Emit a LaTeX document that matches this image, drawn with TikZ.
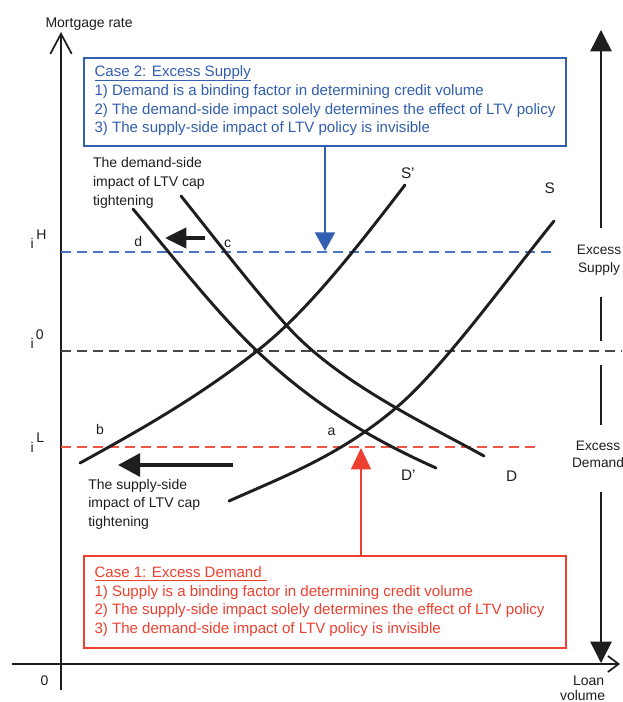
\documentclass[tikz,border=0pt]{standalone}
\usepackage{fontspec}
\setmainfont{Liberation Sans}
\usetikzlibrary{arrows.meta}
\definecolor{cblue}{RGB}{50,95,175}
\definecolor{cbluedash}{RGB}{75,115,195}
\definecolor{cred}{RGB}{238,64,48}
\definecolor{credd}{RGB}{240,85,70}
\definecolor{cgray}{RGB}{70,70,70}
\definecolor{cink}{RGB}{30,30,30}
\begin{document}
\begin{tikzpicture}[x=0.75pt,y=-0.75pt,
  boxtxt/.style={font=\fontsize{11.3}{14}\selectfont, anchor=base west, inner sep=0pt, outer sep=0pt},
  lbl/.style={font=\fontsize{10.5}{13}\selectfont, anchor=base west, inner sep=0pt, outer sep=0pt, text=cink},
  biglbl/.style={font=\fontsize{11.5}{14}\selectfont, anchor=base west, inner sep=0pt, outer sep=0pt, text=cink},
  sidelbl/.style={font=\fontsize{10.3}{13}\selectfont, anchor=base, inner sep=0pt, outer sep=0pt, text=cink},
  curve/.style={line width=2.2pt, cink, line cap=round},
  axisline/.style={line width=1.3pt, cink},
  rline/.style={line width=1.1pt, cink},
  dashline/.style={line width=1.1pt, dash pattern=on 7.5pt off 4.5pt},
  bigarrow/.style={line width=3pt, cink},
  casebox/.style={anchor=north west, inner sep=0pt, outer sep=0pt, minimum width=361.5pt}
]
\fill[white] (0,0) rectangle (622,702);
\useasboundingbox (0,0) rectangle (622,702);

% axes
\coordinate (ybot) at (61,690);
\coordinate (ytop) at (61,32);
\coordinate (xleft) at (12,664);
\coordinate (xright) at (620,664);
\draw[axisline, -{Straight Barb[length=15pt,width=16pt]}] (ybot) -- (ytop);
\draw[axisline, -{Straight Barb[length=8pt,width=12pt]}] (xleft) -- (xright);
\node[lbl] (ylab) at (45.5,27.3) {Mortgage rate};
\node[lbl] (zero) at (40.5,685) {0};
\node[lbl] (loan) at (573,685) {Loan};
\node[lbl] (vol) at (560,700.5) {volume};

% right vertical arrow with gaps
\coordinate (rtop) at (601,30);
\coordinate (r1) at (601,228);
\coordinate (r2) at (601,297);
\coordinate (r3) at (601,341);
\coordinate (r4) at (601,365);
\coordinate (r5) at (601,425);
\coordinate (r6) at (601,492);
\coordinate (rbot) at (601,663);
\draw[rline, -{Triangle[length=16pt,width=16pt]}] (r1) -- (rtop);
\draw[rline] (r2) -- (r3);
\draw[rline] (r4) -- (r5);
\draw[rline, -{Triangle[length=16pt,width=16pt]}] (r6) -- (rbot);
\node[sidelbl] (es1) at (599,254) {Excess};
\node[sidelbl] (es2) at (599,272.7) {Supply};
\node[sidelbl] (ed1) at (598,450) {Excess};
\node[sidelbl] (ed2) at (598,467.5) {Demand};

% dashed levels
\coordinate (iHa) at (61,252);
\coordinate (iHb) at (555,252);
\coordinate (i0a) at (61,351);
\coordinate (i0b) at (622,351);
\coordinate (iLa) at (61,447);
\coordinate (iLb) at (541,447);
\draw[dashline, cbluedash] (iHa) -- (iHb);
\draw[dashline, cgray] (i0a) -- (i0b);
\draw[dashline, credd] (iLa) -- (iLb);
\node[lbl] (iH) at (30.7,248) {i\hspace{2pt}\raisebox{6.4pt}{H}};
\node[lbl] (i0) at (30.7,348) {i\hspace{1.5pt}\raisebox{6.7pt}{0}};
\node[lbl] (iL) at (30.7,452) {i\hspace{2pt}\raisebox{7pt}{L}};

% curves
% D'
\draw[curve] (133,209) .. controls (174,258) and (216,312) .. (257,351)
             .. controls (317,408) and (376,441) .. (436,468);
% D
\draw[curve] (181,196) .. controls (217,241) and (252,287) .. (288,327)
             .. controls (338,382) and (424,423) .. (484,456);
% S'
\draw[curve] (80,463) .. controls (140,430) and (197,398) .. (257,351)
             .. controls (307,312) and (355,250) .. (405,185);
% S
\draw[curve] (229,501) .. controls (285,476) and (341,455) .. (397,407)
             .. controls (442,369) and (504,283) .. (554,221);

% point and curve labels
\node[lbl] (ld) at (134.3,246.7) {d};
\node[lbl] (lc) at (224,247.3) {c};
\node[lbl] (lb) at (96,434) {b};
\node[lbl] (la) at (327.5,435.7) {a};
\node[biglbl] (lSp) at (401,179) {S'};
\node[biglbl] (lS) at (544.5,193.3) {S};
\node[biglbl] (lDp) at (401,480) {D'};
\node[biglbl] (lD) at (506,481.7) {D};

% big black arrows
\coordinate (da1) at (205,238);
\coordinate (da2) at (165,238);
\draw[bigarrow, -{Triangle[length=16pt,width=15pt]}] (da1) -- (da2);
\coordinate (sa1) at (233,465);
\coordinate (sa2) at (118,465);
\draw[bigarrow, -{Triangle[length=16.5pt,width=17pt]}] (sa1) -- (sa2);

% annotations
\node[lbl] (dm1) at (93,167.3) {The demand-side};
\node[lbl] (dm2) at (93,186.3) {impact of LTV cap};
\node[lbl] (dm3) at (93,205) {tightening};
\node[lbl] (sp1) at (88.3,489.3) {The supply-side};
\node[lbl] (sp2) at (88.3,507.7) {impact of LTV cap};
\node[lbl] (sp3) at (88.3,526) {tightening};

% Case 2 box
\node[casebox, draw=cblue, line width=1.5pt, minimum height=66pt] (case2) at (84,58) {};
\node[boxtxt, text=cblue] (c2t) at (94.5,77) {Case 2: Excess Supply};
\draw[cblue, line width=0.75pt] ([yshift=-2.3pt]c2t.base west) -- ([yshift=-2.3pt]c2t.base east);
\node[boxtxt, text=cblue] (c2a) at (94.5,96) {1) Demand is a binding factor in determining credit volume};
\node[boxtxt, text=cblue] (c2b) at (94.5,114.5) {2) The demand-side impact solely determines the effect of LTV policy};
\node[boxtxt, text=cblue] (c2c) at (94.5,133) {3) The supply-side impact of LTV policy is invisible};
\coordinate (btip) at (325,251);
\draw[cblue, line width=1.5pt, -{Triangle[length=14pt,width=15pt]}] (case2.south -| btip) -- (btip);

% Case 1 box
\node[casebox, draw=cred, line width=1.1pt, minimum height=69pt] (case1) at (84,556) {};
\node[boxtxt, text=cred] (c1t) at (94.5,577) {Case 1: Excess Demand};
\draw[cred, line width=0.75pt] ([yshift=-2.3pt]c1t.base west) -- ([yshift=-2.3pt,xshift=4pt]c1t.base east);
\node[boxtxt, text=cred] (c1a) at (94.5,596) {1) Supply is a binding factor in determining credit volume};
\node[boxtxt, text=cred] (c1b) at (94.5,614.5) {2) The supply-side impact solely determines the effect of LTV policy};
\node[boxtxt, text=cred] (c1c) at (94.5,633) {3) The demand-side impact of LTV policy is invisible};
\coordinate (rtip) at (361,448);
\draw[cred, line width=1.1pt, -{Triangle[length=16pt,width=15pt]}] (case1.north -| rtip) -- (rtip);
\end{tikzpicture}
\end{document}
